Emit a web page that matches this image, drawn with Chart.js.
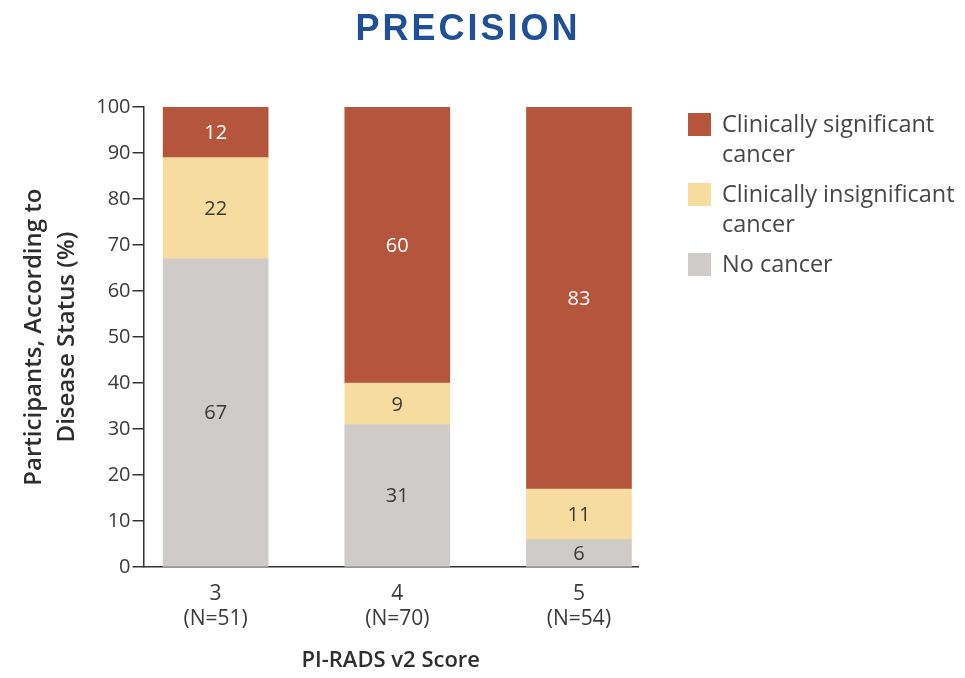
<!DOCTYPE html>
<html>
<head>
<meta charset="utf-8">
<script src="https://cdn.jsdelivr.net/npm/chart.js@4/dist/chart.umd.min.js"></script>
<style>
  html, body { margin: 0; padding: 0; background: #ffffff; }
  #wrap { width: 965px; height: 678px; position: relative; }
</style>
</head>
<body>
<div id="wrap"><canvas id="c" width="965" height="678"></canvas></div>
<script>
// PI-RADS v2 score groups and their sizes
const scores = [3, 4, 5];
const groupSizes = [51, 70, 54];

// Percent of participants in each disease-status group
const noCancer = [67, 31, 6];
const insignificant = [22, 9, 11];
const significant = [12, 60, 83];

const seriesNames = ['No cancer', 'Clinically insignificant cancer', 'Clinically significant cancer'];
const legendLines = {
  'Clinically significant cancer': ['Clinically significant', 'cancer'],
  'Clinically insignificant cancer': ['Clinically insignificant', 'cancer'],
  'No cancer': ['No cancer']
};

const yTicks = [0, 10, 20, 30, 40, 50, 60, 70, 80, 90, 100];

const COLORS = {
  'No cancer': '#cfcbc8',
  'Clinically insignificant cancer': '#f6dc9f',
  'Clinically significant cancer': '#b5553b'
};
const INK = '#3a3a3a';
const FONT = '"Open Sans", Lato, sans-serif';

function points(values) {
  return scores.map((s, i) => ({ x: s, y: values[i] }));
}

const seriesValues = [noCancer, insignificant, significant];

// Segment values written in the middle of each visible segment
const valueLabels = {
  id: 'valueLabels',
  afterDatasetsDraw(chart) {
    const ctx = chart.ctx;
    const area = chart.chartArea;
    ctx.save();
    ctx.font = '20px ' + FONT;
    ctx.textAlign = 'center';
    ctx.textBaseline = 'middle';
    chart.data.datasets.forEach((ds, di) => {
      const meta = chart.getDatasetMeta(di);
      meta.data.forEach((el, i) => {
        const top = Math.max(el.y, area.top);
        const bottom = Math.min(el.base, area.bottom);
        ctx.fillStyle = ds.label === 'Clinically significant cancer' ? '#ffffff' : INK;
        ctx.fillText(String(ds.data[i].y), el.x, (top + bottom) / 2 + 1);
      });
    });
    ctx.restore();
  }
};

// Heading and the key on the right
const headingAndKey = {
  id: 'headingAndKey',
  afterDraw(chart) {
    const ctx = chart.ctx;
    ctx.save();
    ctx.fillStyle = '#1f4f96';
    ctx.font = 'bold 36px "Liberation Sans", Arial, sans-serif';
    ctx.letterSpacing = '3px';
    ctx.textAlign = 'center';
    ctx.textBaseline = 'middle';
    ctx.fillText('PRECISION', 468, 30);
    ctx.letterSpacing = '0px';

    const order = chart.data.datasets.slice().reverse();
    let y = 113;
    ctx.textAlign = 'left';
    ctx.textBaseline = 'alphabetic';
    ctx.font = '23.5px ' + FONT;
    order.forEach(ds => {
      ctx.fillStyle = ds.backgroundColor;
      ctx.fillRect(688, y, 23, 23);
      ctx.fillStyle = '#474747';
      legendLines[ds.label].forEach((line, li) => {
        ctx.fillText(line, 722, y + 19 + li * 30);
      });
      y += 70;
    });
    ctx.restore();
  }
};

new Chart(document.getElementById('c'), {
  type: 'bar',
  data: {
    datasets: seriesNames.map((name, k) => ({
      label: name,
      data: points(seriesValues[k]),
      backgroundColor: COLORS[name],
      borderWidth: 0,
      barThickness: 105
    }))
  },
  options: {
    responsive: false,
    animation: false,
    devicePixelRatio: 1,
    layout: { padding: { top: 107, right: 327, bottom: 4, left: 17 } },
    plugins: {
      legend: { display: false },
      title: { display: false },
      tooltip: { enabled: false }
    },
    scales: {
      x: {
        type: 'linear',
        stacked: true,
        offset: false,
        min: 2.603,
        max: 5.325,
        afterBuildTicks(scale) {
          scale.ticks = scores.map(v => ({ value: v }));
        },
        grid: { display: false, drawTicks: false, offset: false },
        border: { display: true, color: '#333333', width: 1.5 },
        ticks: {
          color: INK,
          font: { family: FONT, size: 21, lineHeight: 1.2 },
          padding: 14,
          maxRotation: 0,
          autoSkip: false,
          callback(v) {
            const i = scores.indexOf(v);
            return [String(v), '(N=' + groupSizes[i] + ')'];
          }
        },
        title: {
          display: true,
          text: 'PI-RADS v2 Score',
          color: '#2e2e2e',
          font: { family: FONT, size: 22, weight: '600' },
          padding: { top: 2, bottom: 0 }
        }
      },
      y: {
        stacked: true,
        min: 0,
        max: 100,
        afterBuildTicks(scale) {
          scale.ticks = yTicks.map(v => ({ value: v }));
        },
        grid: {
          drawOnChartArea: false,
          drawTicks: true,
          tickLength: 11,
          color: '#333333',
          lineWidth: 1.5
        },
        border: { display: true, color: '#333333', width: 1.5 },
        ticks: {
          color: INK,
          font: { family: FONT, size: 20 },
          padding: 2
        },
        title: {
          display: true,
          text: ['Participants, According to', 'Disease Status (%)'],
          color: '#2e2e2e',
          font: { family: FONT, size: 24, weight: '600', lineHeight: 1.4 },
          padding: { top: 0, bottom: 10 }
        }
      }
    }
  },
  plugins: [valueLabels, headingAndKey]
});
</script>
</body>
</html>
